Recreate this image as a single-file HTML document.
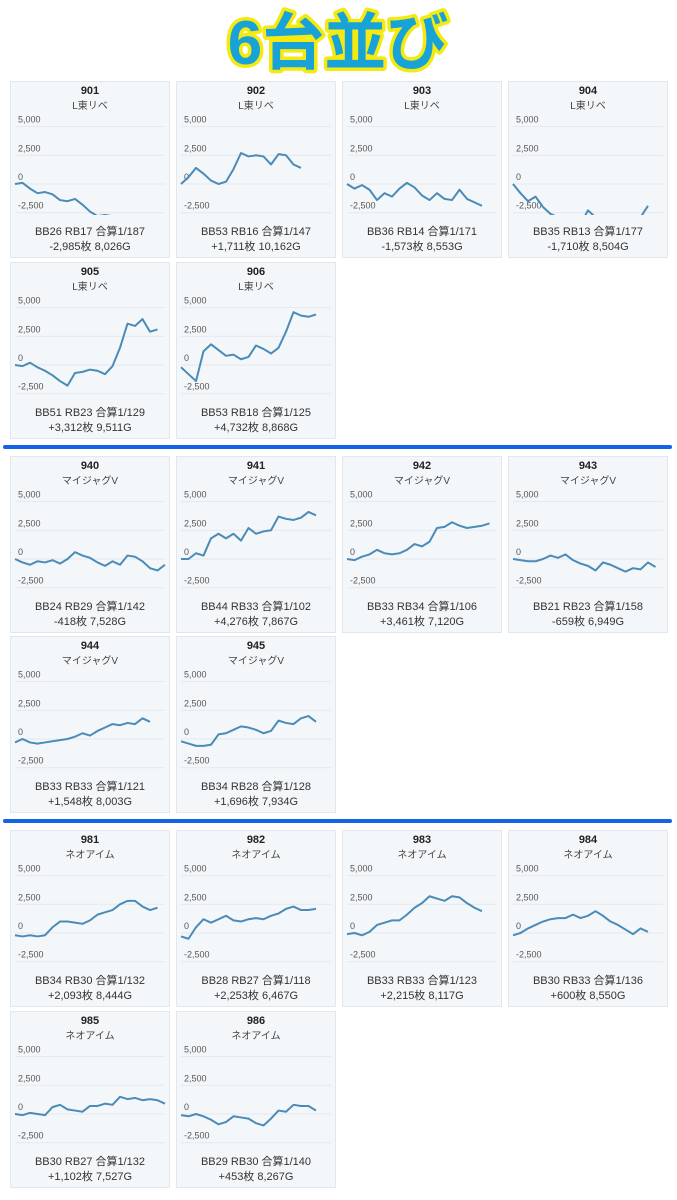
<!DOCTYPE html>
<html><head><meta charset="utf-8">
<style>
body{margin:0;width:677px;height:1200px;background:#fff;position:relative;overflow:hidden;font-family:"Liberation Sans","Noto Sans CJK JP",sans-serif}
.card{position:absolute;width:160px;height:177px;background:#f4f7fa;border:1px solid #e2e7ed;box-sizing:border-box}
.sep{position:absolute;left:3px;width:669px;height:4px;background:#1462e6;border-radius:2px}
</style></head><body>
<svg style="position:absolute;left:0;top:0" width="677" height="80">
<text x="338" y="64" text-anchor="middle" font-family="Liberation Sans,Noto Sans CJK JP,sans-serif" font-weight="bold" font-size="62" fill="#17a2d8" stroke="#f4ea10" stroke-width="7" paint-order="stroke" stroke-linejoin="round">6台並び</text>
</svg>
<div class="sep" style="top:445px"></div>
<div class="sep" style="top:819px"></div>
<script>
const ids=["901","902","903","904","905","906","940","941","942","943","944","945","981","982","983","984","985","986"];
const models=["L東リベ","L東リベ","L東リベ","L東リベ","L東リベ","L東リベ","マイジャグV","マイジャグV","マイジャグV","マイジャグV","マイジャグV","マイジャグV","ネオアイム","ネオアイム","ネオアイム","ネオアイム","ネオアイム","ネオアイム"];
const stats1=["BB26 RB17 合算1/187","BB53 RB16 合算1/147","BB36 RB14 合算1/171","BB35 RB13 合算1/177","BB51 RB23 合算1/129","BB53 RB18 合算1/125","BB24 RB29 合算1/142","BB44 RB33 合算1/102","BB33 RB34 合算1/106","BB21 RB23 合算1/158","BB33 RB33 合算1/121","BB34 RB28 合算1/128","BB34 RB30 合算1/132","BB28 RB27 合算1/118","BB33 RB33 合算1/123","BB30 RB33 合算1/136","BB30 RB27 合算1/132","BB29 RB30 合算1/140"];
const stats2=["-2,985枚 8,026G","+1,711枚 10,162G","-1,573枚 8,553G","-1,710枚 8,504G","+3,312枚 9,511G","+4,732枚 8,868G","-418枚 7,528G","+4,276枚 7,867G","+3,461枚 7,120G","-659枚 6,949G","+1,548枚 8,003G","+1,696枚 7,934G","+2,093枚 8,444G","+2,253枚 6,467G","+2,215枚 8,117G","+600枚 8,550G","+1,102枚 7,527G","+453枚 8,267G"];
const s901=[0,100,-400,-800,-700,-900,-1400,-1500,-1300,-1800,-2400,-2800,-2700,-2800];
const s902=[0,600,1400,900,300,0,200,1300,2700,2400,2500,2400,1700,2600,2500,1700,1400];
const s903=[0,-400,-100,-500,-1400,-800,-1100,-400,100,-300,-1000,-1400,-800,-1300,-1400,-500,-1300,-1600,-1900];
const s904=[0,-800,-1500,-1100,-2000,-2600,-2900,-3500,-3500,-3500,-2300,-2900,-3500,-3500,-3500,-3500,-3500,-2900,-1900];
const s905=[0,-100,200,-200,-500,-900,-1400,-1800,-700,-600,-400,-500,-800,-100,1500,3600,3400,4000,2900,3100];
const s906=[-200,-800,-1400,1200,1800,1300,800,900,500,700,1700,1400,1000,1500,2900,4600,4300,4200,4400];
const s940=[0,-300,-500,-200,-300,-100,-400,0,600,300,100,-300,-600,-200,-500,300,200,-200,-800,-1000,-500];
const s941=[0,0,500,300,1800,2200,1800,2200,1600,2700,2200,2400,2500,3700,3500,3400,3600,4100,3800];
const s942=[0,-100,200,400,800,500,400,500,800,1300,1100,1500,2700,2800,3200,2900,2700,2800,2900,3100];
const s943=[0,-100,-200,-200,0,300,100,400,-100,-400,-600,-1000,-300,-500,-800,-1100,-800,-900,-300,-700];
const s944=[-300,0,-300,-400,-300,-200,-100,0,200,500,300,700,1000,1300,1200,1400,1300,1800,1500];
const s945=[-200,-400,-600,-600,-500,400,500,800,1100,1000,800,500,700,1600,1400,1300,1800,2000,1500];
const s981=[-200,-300,-200,-300,-200,500,1000,1000,900,800,1100,1600,1800,2000,2500,2800,2800,2300,2000,2200];
const s982=[-300,-500,500,1200,900,1200,1500,1100,1000,1200,1300,1200,1500,1700,2100,2300,2000,2000,2100];
const s983=[-100,0,-200,100,700,900,1100,1100,1600,2200,2600,3200,3000,2800,3200,3100,2600,2200,1900];
const s984=[-200,0,400,700,1000,1200,1300,1300,1600,1300,1500,1900,1500,1000,700,300,-100,400,100];
const s985=[0,-100,100,0,-100,600,800,400,300,200,700,700,900,800,1500,1300,1400,1200,1300,1200,900];
const s986=[-100,-200,0,-200,-500,-900,-700,-200,-300,-400,-800,-1000,-400,300,200,800,700,700,300];
const series=[s901,s902,s903,s904,s905,s906,s940,s941,s942,s943,s944,s945,s981,s982,s983,s984,s985,s986];
const yTicks=[5000,2500,0,-2500];
const yTickLabels=["5,000","2,500","0","-2,500"];
const colX=[10,176,342,508];
const rowY=[81,262,456,636,830,1011];
const NS="http://www.w3.org/2000/svg";
function xs(i){return 5+i*7.5;}
function ys(v){return 103-v/2500*28.7;}
ids.forEach((id,k)=>{
  const j=k%6;
  const c=document.createElement('div');
  c.className='card';
  
  
  c.style.left=colX[j%4]+'px';
  c.style.top=rowY[Math.floor(k/6)*2+(j>=4?1:0)]+'px';
  const svg=document.createElementNS(NS,'svg');
  svg.setAttribute('width','160');svg.setAttribute('height','177');
  svg.style.position='absolute';svg.style.left='-1px';svg.style.top='-1px';
  function t(x,y,s,size,col,w,anchor,name){
    const e=document.createElementNS(NS,'text');
    e.setAttribute('x',x);e.setAttribute('y',y);e.setAttribute('font-size',size);
    e.setAttribute('fill',col);if(w)e.setAttribute('font-weight','bold');
    e.setAttribute('text-anchor',anchor);
    e.setAttribute('font-family','Liberation Sans,Noto Sans CJK JP,sans-serif');
    
    
    e.textContent=s;svg.appendChild(e);}
  t(80,13,id,11,'#222',true,'middle','machine-number');
  t(80,28,models[k],10,'#444',false,'middle','machine-model');
  yTicks.forEach((v,i)=>{
    const l=document.createElementNS(NS,'line');
    l.setAttribute('x1',5);l.setAttribute('x2',155);
    l.setAttribute('y1',ys(v));l.setAttribute('y2',ys(v));
    l.setAttribute('stroke','#e4e9ee');l.setAttribute('stroke-width','1');
    
    
    svg.appendChild(l);
    t(8,ys(v)-4,yTickLabels[i],9,'#555',false,'start','y-tick-label');
  });
  const cp=document.createElementNS(NS,'clipPath');cp.setAttribute('id','cp'+k);
  const r=document.createElementNS(NS,'rect');r.setAttribute('x',0);r.setAttribute('y',40);r.setAttribute('width',160);r.setAttribute('height',94);
  cp.appendChild(r);svg.appendChild(cp);
  const p=document.createElementNS(NS,'polyline');
  p.setAttribute('points',series[k].map((v,i)=>xs(i)+','+ys(v)).join(' '));
  p.setAttribute('fill','none');p.setAttribute('stroke','#4a8bb8');p.setAttribute('stroke-width','2');
  p.setAttribute('stroke-linejoin','round');p.setAttribute('clip-path','url(#cp'+k+')');
  
  
  svg.appendChild(p);
  t(80,154,stats1[k],11,'#333',false,'middle','bonus-stats');
  t(80,169,stats2[k],11,'#333',false,'middle','coin-game-stats');
  c.appendChild(svg);
  document.body.appendChild(c);
});
</script>
</body></html>
